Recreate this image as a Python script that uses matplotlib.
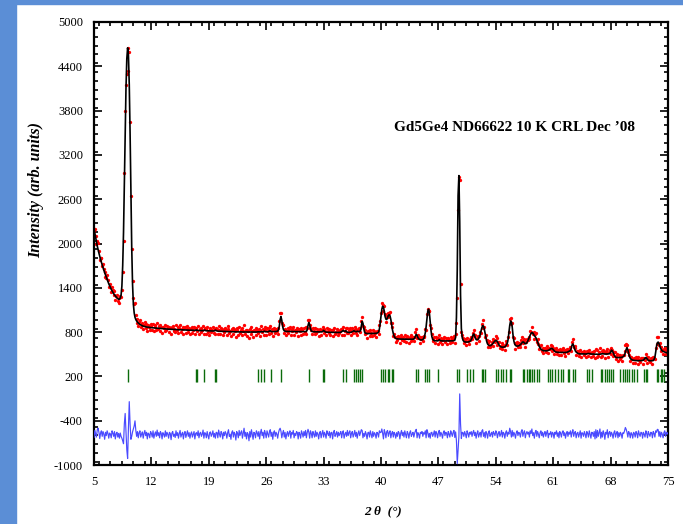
import numpy as np
import matplotlib
matplotlib.use("Agg")
import matplotlib.pyplot as plt
from matplotlib.ticker import MultipleLocator, FixedLocator

plt.rcParams['font.family'] = ['Liberation Serif', 'DejaVu Serif']

# 2-theta grid (degrees), 0.1 deg steps from 5.0 to 75.0
two_theta = np.round(np.arange(5.0, 75.05, 0.1), 1)

# calculated profile, one row per degree (x.0 ... x.9)
calc_rows = [
    [2200, 2140, 2080, 2020, 1965, 1915, 1870, 1825, 1785, 1745],  # 5
    [1710, 1675, 1640, 1605, 1575, 1545, 1515, 1485, 1455, 1430],  # 6
    [1405, 1380, 1360, 1340, 1320, 1305, 1290, 1275, 1262, 1252],  # 7
    [1245, 1245, 1260, 1300, 1420, 1700, 2150, 2800, 3500, 4100],  # 8
    [4500, 4650, 4550, 4150, 3500, 2700, 1950, 1450, 1180, 1060],  # 9
    [1000, 970, 950, 935, 922, 912, 904, 897, 891, 886],  # 10
    [881, 878, 875, 872, 870, 868, 866, 864, 862, 861],  # 11
    [860, 858, 857, 856, 855, 854, 853, 852, 851, 850],  # 12
    [849, 848, 847, 846, 845, 844, 843, 843, 842, 842],  # 13
    [841, 840, 840, 839, 838, 838, 837, 836, 836, 835],  # 14
    [835, 834, 834, 833, 832, 832, 831, 831, 830, 830],  # 15
    [829, 829, 828, 828, 827, 827, 826, 826, 825, 825],  # 16
    [824, 824, 823, 823, 824, 830, 824, 822, 821, 821],  # 17
    [820, 820, 819, 819, 822, 828, 821, 818, 818, 817],  # 18
    [817, 816, 816, 816, 815, 815, 815, 818, 826, 822],  # 19
    [815, 813, 812, 812, 811, 811, 810, 810, 810, 809],  # 20
    [809, 808, 808, 807, 807, 807, 806, 806, 806, 805],  # 21
    [805, 805, 804, 804, 804, 803, 803, 803, 802, 802],  # 22
    [802, 801, 801, 801, 800, 800, 800, 800, 800, 800],  # 23
    [800, 800, 800, 800, 800, 800, 800, 800, 800, 801],  # 24
    [804, 803, 801, 802, 808, 805, 802, 808, 812, 806],  # 25
    [804, 804, 805, 808, 815, 818, 810, 806, 806, 807],  # 26
    [807, 808, 808, 810, 815, 830, 880, 970, 1010, 960],  # 27
    [880, 835, 818, 812, 810, 810, 809, 809, 808, 808],  # 28
    [808, 807, 807, 807, 807, 806, 806, 806, 806, 806],  # 29
    [806, 806, 806, 806, 806, 806, 806, 806, 807, 808],  # 30
    [830, 890, 930, 900, 845, 815, 808, 806, 805, 805],  # 31
    [804, 804, 803, 803, 803, 802, 802, 802, 803, 810],  # 32
    [822, 812, 803, 800, 799, 798, 798, 797, 797, 797],  # 33
    [796, 796, 796, 796, 796, 796, 795, 795, 795, 795],  # 34
    [796, 798, 805, 815, 820, 812, 810, 818, 805, 798],  # 35
    [797, 796, 796, 797, 800, 806, 812, 818, 812, 805],  # 36
    [806, 812, 810, 806, 808, 820, 880, 945, 920, 850],  # 37
    [800, 785, 782, 781, 780, 780, 780, 780, 781, 782],  # 38
    [782, 782, 783, 783, 784, 786, 790, 800, 840, 920],  # 39
    [1020, 1110, 1150, 1140, 1080, 1010, 975, 970, 995, 1025],  # 40
    [1035, 1020, 970, 900, 830, 780, 745, 725, 715, 710],  # 41
    [708, 707, 706, 706, 705, 705, 705, 704, 704, 704],  # 42
    [704, 704, 703, 703, 703, 703, 703, 703, 703, 704],  # 43
    [705, 720, 745, 770, 755, 725, 710, 700, 695, 693],  # 44
    [695, 700, 710, 740, 790, 870, 980, 1080, 1110, 1060],  # 45
    [940, 820, 740, 705, 690, 685, 683, 682, 682, 681],  # 46
    [685, 698, 690, 682, 681, 680, 680, 680, 680, 680],  # 47
    [680, 680, 680, 680, 680, 681, 681, 682, 683, 685],  # 48
    [690, 730, 1000, 1650, 2650, 2920, 2300, 1300, 850, 730],  # 49
    [690, 675, 668, 666, 665, 665, 666, 668, 672, 680],  # 50
    [695, 720, 755, 775, 755, 720, 700, 694, 698, 712],  # 51
    [735, 770, 815, 860, 888, 880, 840, 780, 715, 668],  # 52
    [640, 625, 618, 616, 620, 628, 640, 655, 668, 680],  # 53
    [688, 685, 668, 645, 625, 610, 602, 598, 596, 596],  # 54
    [598, 602, 610, 625, 650, 700, 790, 890, 950, 940],  # 55
    [870, 760, 680, 640, 620, 612, 610, 612, 615, 622],  # 56
    [630, 642, 658, 668, 665, 650, 642, 645, 658, 680],  # 57
    [705, 735, 762, 782, 795, 790, 772, 752, 740, 722],  # 58
    [692, 660, 630, 605, 585, 570, 560, 553, 549, 547],  # 59
    [546, 546, 547, 549, 552, 558, 566, 575, 580, 575],  # 60
    [562, 548, 538, 532, 529, 527, 526, 525, 525, 525],  # 61
    [525, 525, 525, 524, 524, 524, 525, 528, 533, 540],  # 62
    [543, 548, 580, 625, 640, 615, 575, 545, 530, 520],  # 63
    [512, 508, 506, 505, 505, 504, 504, 504, 504, 503],  # 64
    [503, 505, 508, 510, 508, 505, 503, 502, 502, 502],  # 65
    [501, 501, 501, 500, 500, 500, 500, 500, 502, 505],  # 66
    [508, 506, 504, 503, 503, 503, 503, 504, 506, 510],  # 67
    [525, 555, 548, 525, 498, 475, 462, 456, 455, 455],  # 68
    [455, 455, 456, 458, 460, 465, 472, 490, 525, 565],  # 69
    [590, 560, 510, 470, 445, 432, 425, 420, 418, 416],  # 70
    [415, 414, 414, 413, 413, 413, 413, 414, 415, 416],  # 71
    [420, 432, 450, 455, 445, 428, 418, 414, 412, 412],  # 72
    [412, 413, 415, 430, 460, 530, 610, 655, 665, 645],  # 73
    [610, 580, 560, 545, 540, 535, 530, 525, 522, 520],  # 74
    [520],  # 75
]

# observed minus calculated (difference curve), same layout
diff_rows = [
    [-35, 60, 15, -30, 70, 90, 35, -50, 25, 55],  # 5
    [-20, 45, 10, -60, 35, -10, 55, 20, -45, 25],  # 6
    [10, -40, 55, 25, -20, 45, -55, 15, 35, -30],  # 7
    [20, -45, 25, -20, -45, -80, -120, 150, 290, 50],  # 8
    [-200, -320, 100, 450, 150, -60, -20, 40, 80, 120],  # 9
    [190, 60, -20, 45, -40, 30, 55, -30, 10, 40],  # 10
    [-45, 20, 60, -10, 35, -55, 25, 10, -40, 45],  # 11
    [20, -30, 55, -45, 10, 40, -20, 65, -10, 30],  # 12
    [-40, 45, 20, -55, 30, 10, -30, 55, -20, 35],  # 13
    [10, -45, 35, 20, -65, 25, 45, -20, 10, -35],  # 14
    [55, -10, 30, -45, 20, 60, -30, 10, 35, -55],  # 15
    [20, 45, -35, 10, 55, -20, 30, -45, 15, 40],  # 16
    [-30, 10, 45, -55, 20, 30, -10, 55, -40, 20],  # 17
    [35, -20, 10, 65, -45, 30, 20, -40, 45, -10],  # 18
    [-55, 30, 40, -20, 10, 55, -30, 20, -45, 35],  # 19
    [30, -40, 65, 10, -30, 45, 20, -55, 35, -10],  # 20
    [45, 20, -45, 30, 70, -20, 10, -60, 35, 55],  # 21
    [-30, 35, 10, -70, 45, 20, -40, 60, -10, 30],  # 22
    [55, -45, 20, 90, -20, 35, -55, 30, 10, -80],  # 23
    [45, -30, 70, 10, -60, 35, 20, -40, 55, 30],  # 24
    [-20, 45, -55, 30, 75, -10, 35, -45, 60, 20],  # 25
    [-40, 55, 10, -30, 45, 70, -20, 35, -60, 30],  # 26
    [55, -20, 35, 10, -45, 30, 70, 90, 50, -40],  # 27
    [20, 60, -30, 35, -55, 10, 45, -20, 30, 55],  # 28
    [-45, 30, 10, 60, -40, 20, -10, 45, 30, -55],  # 29
    [35, 10, -45, 55, 20, -30, 45, -10, 60, -40],  # 30
    [30, 75, 35, -45, 55, 20, -40, 45, 10, -30],  # 31
    [55, -20, 35, 10, -55, 30, 45, -40, 20, 60],  # 32
    [-30, 35, 10, -45, 55, 20, -10, 45, -40, 30],  # 33
    [35, -55, 30, 60, -20, 10, 45, -30, 35, -10],  # 34
    [20, 45, -40, 30, 55, -45, 10, 35, -20, 60],  # 35
    [-10, 30, 55, -40, 20, 45, -30, 10, 60, -20],  # 36
    [35, -45, 20, 55, -10, 30, 70, 60, -40, 20],  # 37
    [-20, 45, 10, -55, 30, 35, -30, 55, 10, -40],  # 38
    [45, -20, 30, 10, -45, 35, 20, -30, 55, 30],  # 39
    [35, 80, 20, -55, 70, 30, -40, 45, 60, -20],  # 40
    [30, 55, -40, 20, 45, -30, 35, 10, -45, 30],  # 41
    [-20, 45, 30, -55, 20, 60, -10, 35, -30, 55],  # 42
    [10, -40, 45, 20, -45, 30, 55, -20, 10, 35],  # 43
    [-30, 20, 55, 75, -40, 30, 10, -45, 35, 20],  # 44
    [45, -20, 30, 10, 55, -40, 70, 35, -30, 20],  # 45
    [-45, 30, 35, -20, 10, 55, -30, 45, 20, -40],  # 46
    [30, 60, -20, 35, 10, -45, 30, 55, -10, 35],  # 47
    [20, -40, 45, 10, -30, 55, 20, -20, 35, 60],  # 48
    [-35, 40, -80, -390, -200, -20, 555, 150, -50, 35],  # 49
    [30, -20, 45, 10, -40, 55, 20, -30, 35, 10],  # 50
    [45, -20, 30, 60, -10, 35, -45, 20, 55, -30],  # 51
    [10, 35, -30, 55, 70, -20, 30, -40, 45, 20],  # 52
    [-45, 30, 55, -20, 10, 35, -30, 45, 20, -10],  # 53
    [55, 30, -40, 20, 45, -20, 10, 60, -30, 35],  # 54
    [20, -45, 30, 55, -20, 35, 10, 90, 45, -30],  # 55
    [60, -20, 35, 10, -45, 30, 55, -10, 35, 20],  # 56
    [-30, 45, 70, -20, 30, 55, -40, 20, 45, 10],  # 57
    [35, -30, 55, 20, 80, -10, 30, -45, 35, 60],  # 58
    [-20, 45, 10, -40, 30, 55, -10, 35, -30, 20],  # 59
    [45, -20, 30, 60, -40, 20, 10, 45, -30, 35],  # 60
    [20, -45, 35, 10, 55, -20, 30, -40, 45, 20],  # 61
    [-30, 35, 55, -10, 30, -45, 20, 45, -20, 35],  # 62
    [10, 55, -30, 35, 70, -20, 30, 45, -40, 20],  # 63
    [35, -30, 10, 55, -45, 30, 20, -20, 45, 10],  # 64
    [-40, 45, 20, -30, 55, 10, -45, 35, 30, -20],  # 65
    [45, -55, 70, -40, 60, -20, 30, 80, -45, 35],  # 66
    [-30, 55, 20, -60, 35, 10, 70, -40, 30, 45],  # 67
    [-20, 35, 10, -45, 30, 55, -30, 20, 45, -40],  # 68
    [30, -20, 35, 10, -45, 30, 20, 55, 100, 75],  # 69
    [35, -30, 45, 20, -40, 30, 10, -45, 35, 20],  # 70
    [-30, 45, 20, -40, 55, 10, -20, 35, 30, -45],  # 71
    [35, 10, -30, 55, 20, -40, 45, 10, -20, 35],  # 72
    [30, -40, 45, 20, -30, 55, 35, 75, 70, -20],  # 73
    [45, -30, 35, 10, -40, 30, 55, -20, 35, 10],  # 74
    [30],  # 75
]

# Bragg reflection positions (2-theta)
reflections = [9.1, 17.5, 17.6, 18.45, 19.75, 19.9, 25.0, 25.4, 25.7, 26.6, 27.8,
               31.2, 32.95, 33.1, 35.4, 35.7, 36.7, 37.0, 37.2, 37.4, 37.65,
               39.95, 40.2, 40.5, 40.8, 41.0, 41.3, 41.5, 44.3, 44.5, 45.4, 45.6,
               45.9, 47.0, 49.3, 49.5, 50.5, 50.85, 51.25, 52.3, 52.5, 52.7,
               54.0, 54.3, 54.6, 54.9, 55.2, 55.7, 55.9, 57.3, 57.5, 57.8, 58.0,
               58.2, 58.4, 58.7, 59.0, 59.3, 60.4, 60.6, 60.9, 61.2, 61.6, 61.9,
               62.2, 62.8, 62.9, 63.4, 63.7, 65.1, 65.4, 65.7, 66.8, 67.0, 67.3,
               67.6, 67.8, 68.1, 68.3, 69.1, 69.5, 69.8, 70.0, 70.3, 70.6, 70.9,
               71.2, 72.1, 72.3, 72.4, 73.6, 73.8, 74.1, 74.3, 74.5]

x_ticks = [5, 12, 19, 26, 33, 40, 47, 54, 61, 68, 75]
y_ticks = [-1000, -400, 200, 800, 1400, 2000, 2600, 3200, 3800, 4400, 5000]
title_text = "Gd5Ge4 ND66622 10 K CRL Dec \u201908"
x_label = "2 \u03b8  (\u00b0)"
y_label = "Intensity (arb. units)"

calc = np.array([v for row in calc_rows for v in row], dtype=float)
diff = np.array([v for row in diff_rows for v in row], dtype=float)
obs = calc + diff
diff_offset = -592
tick_low, tick_high = 130, 300

fig = plt.figure(figsize=(6.83, 5.24), dpi=100)
fig.patch.set_facecolor('white')
# blue frame strips of the original screenshot
fig.add_artist(plt.Rectangle((0, 0), 16 / 683, 1, transform=fig.transFigure,
                             color='#5b8ed6', zorder=0))
fig.add_artist(plt.Rectangle((0, 1 - 4 / 524), 1, 4 / 524, transform=fig.transFigure,
                             color='#5b8ed6', zorder=0))

ax = fig.add_axes([94 / 683, 1 - 465 / 524, 574 / 683, 443 / 524])

ax.plot(two_theta, obs, linestyle='none', marker='o', markersize=2.4,
        markeredgewidth=0, color='#ff0000', zorder=2)
ax.plot(two_theta, calc, color='black', linewidth=1.2, zorder=3)
ax.plot(two_theta, diff + diff_offset, color='#4a4aff', linewidth=0.85, zorder=3)
ax.vlines(reflections, tick_low, tick_high, color='#0b6b0b', linewidth=1.0, zorder=2)

ax.set_xlim(5, 75)
ax.set_ylim(-1000, 5000)
ax.xaxis.set_major_locator(FixedLocator(x_ticks))
ax.xaxis.set_minor_locator(MultipleLocator(1.4))
ax.yaxis.set_major_locator(FixedLocator(y_ticks))
ax.yaxis.set_minor_locator(MultipleLocator(120))
ax.set_xticklabels([str(t) for t in x_ticks])
ax.set_yticklabels([str(t) for t in y_ticks])

ax.tick_params(which='both', direction='in', top=True, right=True, labelsize=9,
               width=1.2)
ax.tick_params(which='major', length=6, pad=8)
ax.tick_params(which='minor', length=3)
for s in ax.spines.values():
    s.set_linewidth(1.6)

ax.set_xlabel(x_label, fontsize=9.5, fontweight='bold', fontstyle='italic')
ax.xaxis.set_label_coords(0.503, -0.09)
ax.set_ylabel(y_label, fontsize=11.5, fontweight='bold', fontstyle='italic')
ax.yaxis.set_label_coords(-0.087, 0.62)

ax.text(0.732, 0.761, title_text, transform=ax.transAxes, ha='center', va='center',
        fontsize=11, fontweight='bold')

fig.savefig('out.png', dpi=100)
